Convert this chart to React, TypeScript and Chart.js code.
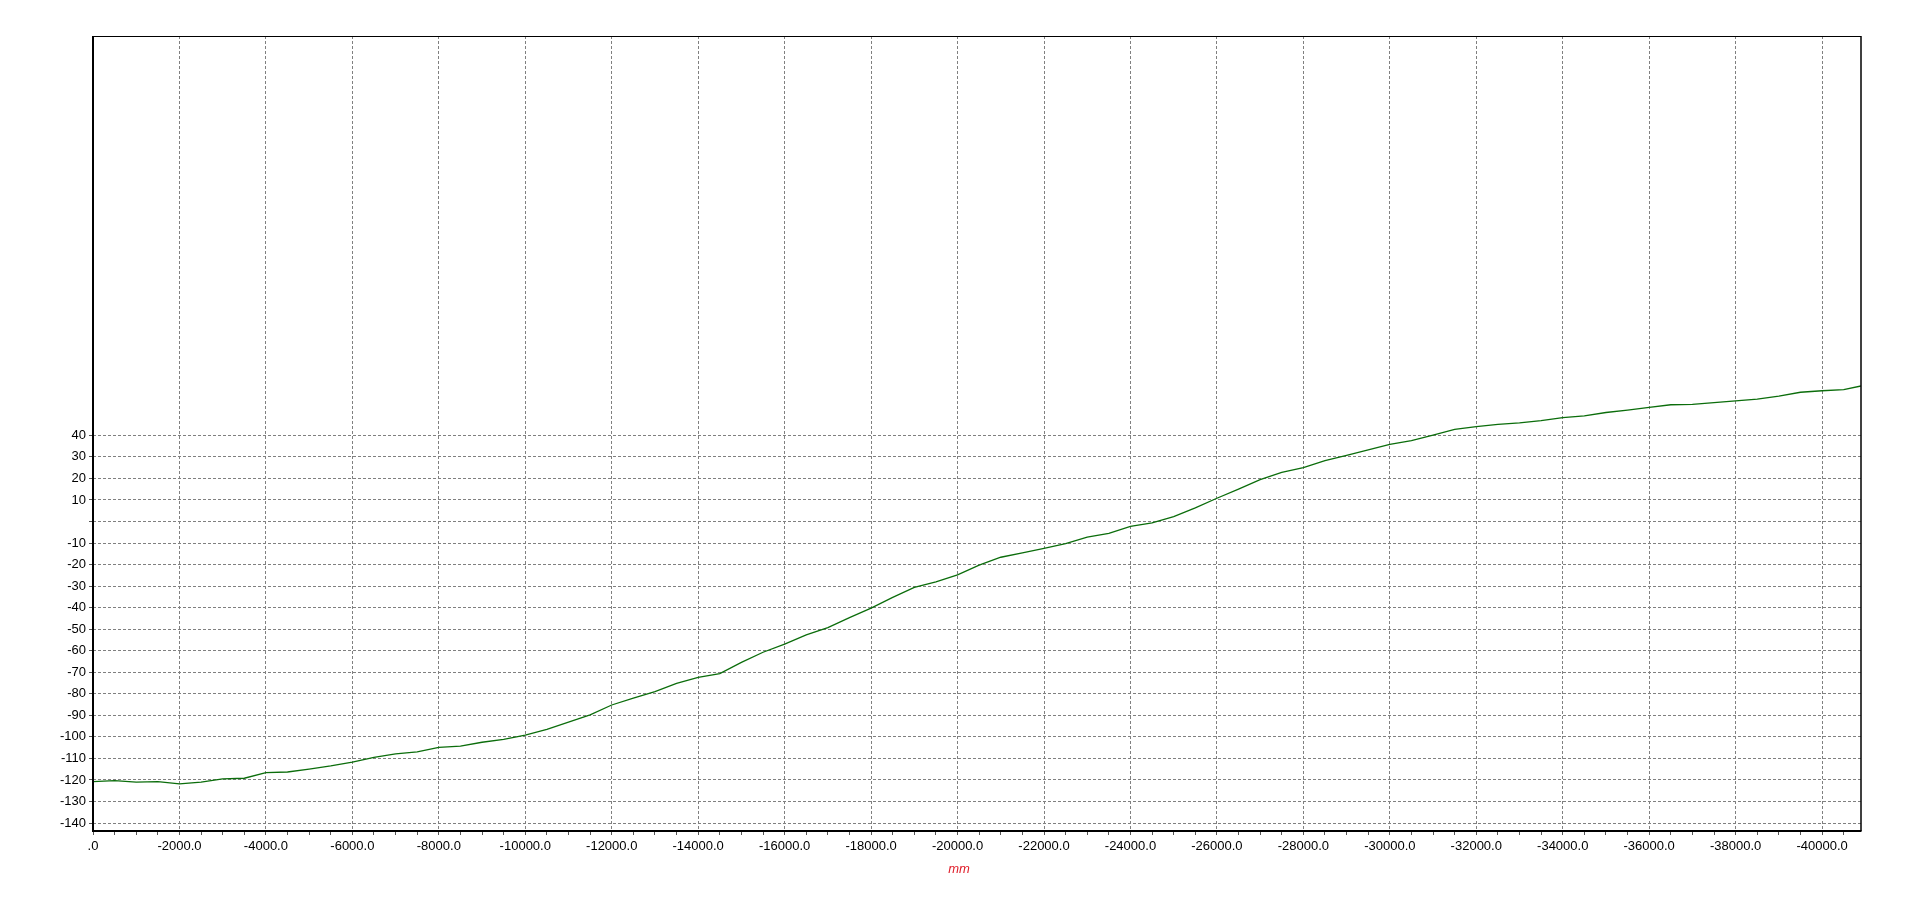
import React, { useEffect, useRef } from "react";
import { Chart, registerables } from "chart.js";

Chart.register(...registerables);

// distance along the run (mm) and measured deviation
const distanceMm = [
  0, -500, -1000, -1500, -2000, -2500, -3000, -3500, -4000, -4500,
  -5000, -5500, -6000, -6500, -7000, -7500, -8000, -8500, -9000, -9500,
  -10000, -10500, -11000, -11500, -12000, -12500, -13000, -13500, -14000, -14500,
  -15000, -15500, -16000, -16500, -17000, -17500, -18000, -18500, -19000, -19500,
  -20000, -20500, -21000, -21500, -22000, -22500, -23000, -23500, -24000, -24500,
  -25000, -25500, -26000, -26500, -27000, -27500, -28000, -28500, -29000, -29500,
  -30000, -30500, -31000, -31500, -32000, -32500, -33000, -33500, -34000, -34500,
  -35000, -35500, -36000, -36500, -37000, -37500, -38000, -38500, -39000, -39500,
  -40000, -40500, -40900,
];

const deviation = [
  -120.8, -120.3, -121.0, -120.8, -121.8, -121.0, -119.5, -119.2, -116.6, -116.3,
  -115.0, -113.5, -111.7, -109.5, -107.9, -107.0, -104.9, -104.3, -102.5, -101.2,
  -99.2, -96.5, -93.2, -89.8, -85.2, -82.0, -79.0, -75.2, -72.4, -70.6,
  -65.4, -60.7, -56.9, -52.6, -49.3, -44.6, -40.2, -35.2, -30.6, -28.0,
  -24.8, -20.3, -16.6, -14.6, -12.5, -10.3, -7.3, -5.5, -2.3, -0.6,
  2.3, 6.3, 10.8, 15.0, 19.4, 22.8, 25.0, 28.3, 30.7, 33.2,
  35.8, 37.5, 40.1, 42.8, 44.0, 45.1, 45.8, 46.8, 48.2, 49.0,
  50.6, 51.7, 53.0, 54.2, 54.4, 55.2, 56.0, 56.8, 58.2, 60.0,
  60.7, 61.2, 62.9,
];

const xMajorTicks = [
  0, -2000, -4000, -6000, -8000, -10000, -12000, -14000, -16000, -18000, -20000,
  -22000, -24000, -26000, -28000, -30000, -32000, -34000, -36000, -38000, -40000,
];
const xMinorStep = 500;
const xMin = -40900;
const xMax = 0;

const yTicks = [
  -140, -130, -120, -110, -100, -90, -80, -70, -60, -50, -40, -30, -20, -10, 0, 10, 20, 30, 40,
];
const yMin = -143.7;
const yMax = 225.4;

const xTitle = "mm";

const FONT = '"Liberation Sans", Arial, sans-serif';

export default function App() {
  const ref = useRef<HTMLCanvasElement | null>(null);

  useEffect(() => {
    if (!ref.current) return;
    const points = distanceMm.map((x, i) => ({ x, y: deviation[i] }));

    const xTickValues: number[] = [];
    for (let v = 0; v >= xMin; v -= xMinorStep) xTickValues.push(v);

    const framePlugin = {
      id: "frame",
      afterDraw(chart: any) {
        const { ctx, chartArea } = chart;
        const { left, right, top, bottom } = chartArea;
        ctx.save();
        ctx.strokeStyle = "#000";
        ctx.lineWidth = 1;
        ctx.beginPath();
        ctx.moveTo(left, top + 0.5);
        ctx.lineTo(right, top + 0.5);
        ctx.stroke();
        ctx.lineWidth = 1.5;
        ctx.beginPath();
        ctx.moveTo(right, top);
        ctx.lineTo(right, bottom);
        ctx.stroke();
        ctx.lineWidth = 2;
        ctx.beginPath();
        ctx.moveTo(left, top);
        ctx.lineTo(left, bottom + 1);
        ctx.stroke();
        ctx.beginPath();
        ctx.moveTo(left - 1, bottom);
        ctx.lineTo(right + 0.5, bottom);
        ctx.stroke();
        ctx.fillStyle = "#e0202c";
        ctx.font = "italic 13px " + FONT;
        ctx.textAlign = "center";
        ctx.textBaseline = "middle";
        ctx.fillText(xTitle, (left + right) / 2 - 18, bottom + 38);
        ctx.restore();
      },
    };

    const chart = new Chart(ref.current, {
      type: "line",
      data: {
        datasets: [
          {
            data: points,
            borderColor: "#0b6d0b",
            borderWidth: 1.3,
            pointRadius: 0,
            tension: 0,
            fill: false,
          },
        ],
      },
      options: {
        animation: false,
        responsive: false,
        devicePixelRatio: 1,
        parsing: false as any,
        layout: { padding: { left: 0, top: 36, right: 57, bottom: 0 } },
        plugins: {
          legend: { display: false },
          tooltip: { enabled: false },
          title: { display: false },
        },
        scales: {
          x: {
            type: "linear",
            min: xMin,
            max: xMax,
            reverse: true,
            afterBuildTicks: (scale: any) => {
              scale.ticks = xTickValues.map((v) => ({ value: v }));
            },
            afterFit: (scale: any) => {
              scale.height = 81;
            },
            ticks: {
              autoSkip: false,
              maxRotation: 0,
              minRotation: 0,
              padding: 4,
              color: "#000",
              font: { family: FONT, size: 13 },
              callback: (value: any) => {
                const v = Number(value);
                if (!xMajorTicks.includes(v)) return "";
                return v === 0 ? ".0" : v.toFixed(1);
              },
            },
            grid: {
              color: (c: any) =>
                c.tick && xMajorTicks.includes(c.tick.value) ? "#808080" : "rgba(0,0,0,0)",
              lineWidth: 1,
              tickColor: "#555",
              tickLength: 4,
              tickBorderDash: [],
            } as any,
            border: { display: false, dash: [3, 2] },
          },
          y: {
            type: "linear",
            min: yMin,
            max: yMax,
            afterBuildTicks: (scale: any) => {
              scale.ticks = yTicks.map((v) => ({ value: v }));
            },
            afterFit: (scale: any) => {
              scale.width = 93;
            },
            ticks: {
              autoSkip: false,
              padding: 3,
              color: "#000",
              font: { family: FONT, size: 13 },
              callback: (value: any) => {
                const v = Number(value);
                return v === 0 ? "" : String(v);
              },
            },
            grid: {
              color: "#808080",
              lineWidth: 1,
              tickColor: "#555",
              tickLength: 4,
              tickBorderDash: [],
            } as any,
            border: { display: false, dash: [3, 2] },
          },
        },
      },
      plugins: [framePlugin],
    });

    return () => chart.destroy();
  }, []);

  return (
    <div
      style={{
        position: "fixed",
        left: 0,
        top: 0,
        width: 1918,
        height: 912,
        background: "#fff",
      }}
    >
      <canvas ref={ref} width={1918} height={912} style={{ display: "block" }} />
    </div>
  );
}
